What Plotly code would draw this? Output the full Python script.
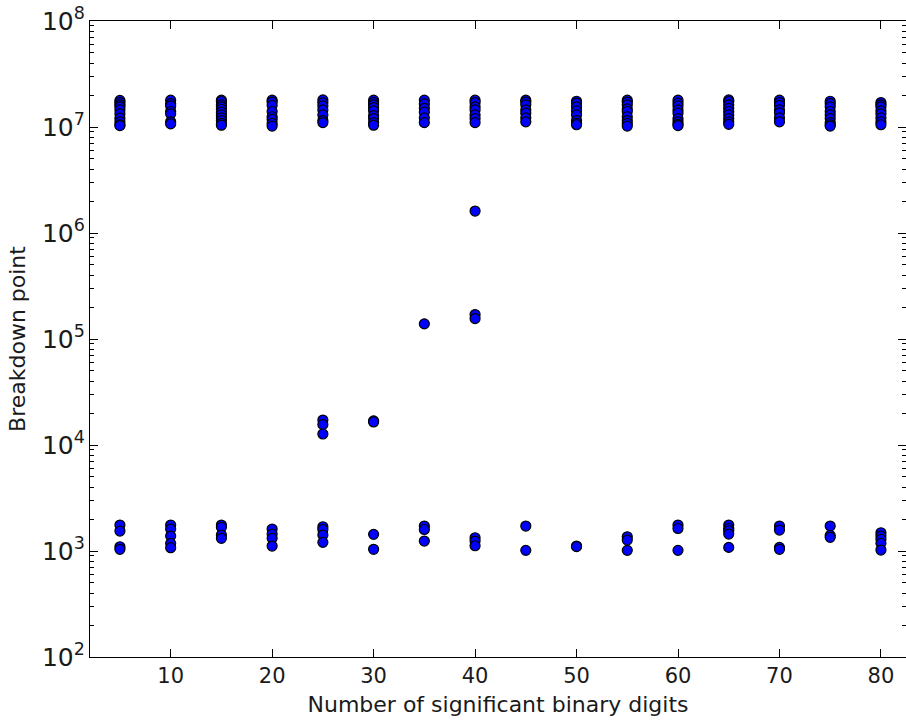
import plotly.graph_objects as go

# Significant binary digits tested, and the breakdown points observed for each
digits = [5, 10, 15, 20, 25, 30, 35, 40, 45, 50, 55, 60, 65, 70, 75, 80]

# Upper band of breakdown points (around 1e7)
high_band = {
    5:  [1.78e7, 1.70e7, 1.62e7, 1.55e7, 1.45e7, 1.33e7, 1.21e7, 1.12e7, 1.05e7, 1.03e7],
    10: [1.79e7, 1.66e7, 1.58e7, 1.40e7, 1.33e7, 1.12e7, 1.07e7],
    15: [1.79e7, 1.74e7, 1.62e7, 1.55e7, 1.47e7, 1.38e7, 1.30e7, 1.22e7, 1.15e7, 1.08e7, 1.04e7],
    20: [1.79e7, 1.72e7, 1.60e7, 1.40e7, 1.25e7, 1.18e7, 1.08e7, 1.02e7],
    25: [1.80e7, 1.69e7, 1.58e7, 1.45e7, 1.30e7, 1.15e7, 1.10e7],
    30: [1.79e7, 1.70e7, 1.62e7, 1.52e7, 1.42e7, 1.28e7, 1.20e7, 1.10e7, 1.04e7],
    35: [1.79e7, 1.65e7, 1.50e7, 1.38e7, 1.22e7, 1.10e7],
    40: [1.79e7, 1.70e7, 1.55e7, 1.45e7, 1.30e7, 1.20e7, 1.10e7],
    45: [1.79e7, 1.72e7, 1.62e7, 1.45e7, 1.35e7, 1.22e7, 1.12e7],
    50: [1.75e7, 1.68e7, 1.55e7, 1.42e7, 1.30e7, 1.15e7, 1.08e7, 1.05e7],
    55: [1.79e7, 1.72e7, 1.62e7, 1.48e7, 1.40e7, 1.25e7, 1.15e7, 1.08e7, 1.02e7],
    60: [1.79e7, 1.68e7, 1.58e7, 1.45e7, 1.35e7, 1.20e7, 1.12e7, 1.06e7, 1.03e7],
    65: [1.80e7, 1.74e7, 1.62e7, 1.50e7, 1.40e7, 1.30e7, 1.20e7, 1.12e7, 1.06e7],
    70: [1.79e7, 1.70e7, 1.60e7, 1.45e7, 1.36e7, 1.22e7, 1.12e7],
    75: [1.75e7, 1.66e7, 1.55e7, 1.40e7, 1.30e7, 1.20e7, 1.10e7, 1.05e7, 1.02e7],
    80: [1.70e7, 1.62e7, 1.55e7, 1.42e7, 1.33e7, 1.22e7, 1.12e7, 1.05e7],
}

# Intermediate breakdown points
mid_band = {
    25: [1.72e4, 1.56e4, 1.27e4],
    30: [1.69e4, 1.65e4],
    35: [1.39e5],
    40: [1.61e6, 1.70e5, 1.56e5],
}

# Lower band of breakdown points (around 1e3)
low_band = {
    5:  [1758, 1542, 1097, 1037],
    10: [1758, 1610, 1383, 1181, 1074],
    15: [1758, 1671, 1414, 1316],
    20: [1610, 1445, 1316, 1113],
    25: [1694, 1595, 1414, 1207],
    30: [1436, 1037],
    35: [1719, 1595, 1241],
    40: [1333, 1241, 1121],
    45: [1719, 1014],
    50: [1113, 1100],
    55: [1362, 1268, 1014],
    60: [1758, 1630, 1014],
    65: [1758, 1630, 1552, 1445, 1081],
    70: [1719, 1577, 1081, 1037],
    75: [1719, 1405, 1345],
    80: [1486, 1383, 1288, 1181, 1021],
}

xs, ys = [], []
for band in (high_band, mid_band, low_band):
    for d in digits:
        for v in band.get(d, []):
            xs.append(d)
            ys.append(v)

fig = go.Figure()
fig.add_trace(go.Scatter(
    x=xs, y=ys, mode="markers",
    marker=dict(color="#0000ff", size=10, line=dict(color="black", width=1.2)),
    showlegend=False, cliponaxis=False,
))

font = "DejaVu Sans"
text_color = "#1a1a1a"
axis_common = dict(
    showline=True, linecolor="black", linewidth=1.3, mirror="allticks",
    ticks="inside", ticklen=8, tickwidth=1, tickcolor="black",
    showgrid=False, zeroline=False,
)

fig.update_xaxes(
    range=[2.05, 82.47], tickvals=[10, 20, 30, 40, 50, 60, 70, 80],
    tickfont=dict(family=font, size=21, color=text_color),
    title=dict(text="Number of significant binary digits",
               font=dict(family=font, size=22, color=text_color), standoff=9),
    **axis_common,
)
fig.update_yaxes(
    type="log", range=[2, 8], dtick=1, exponentformat="power",
    tickfont=dict(family=font, size=20, color=text_color),
    minor=dict(ticks="inside", ticklen=4, tickwidth=1, tickcolor="black", dtick="D1"),
    title=dict(text="Breakdown point",
               font=dict(family=font, size=22, color=text_color), standoff=10),
    **axis_common,
)

fig.update_layout(
    width=906, height=724,
    margin=dict(l=90, r=0, t=21, b=67),
    plot_bgcolor="white", paper_bgcolor="white",
    font=dict(family=font, color=text_color),
)

fig.write_html("out.html")
